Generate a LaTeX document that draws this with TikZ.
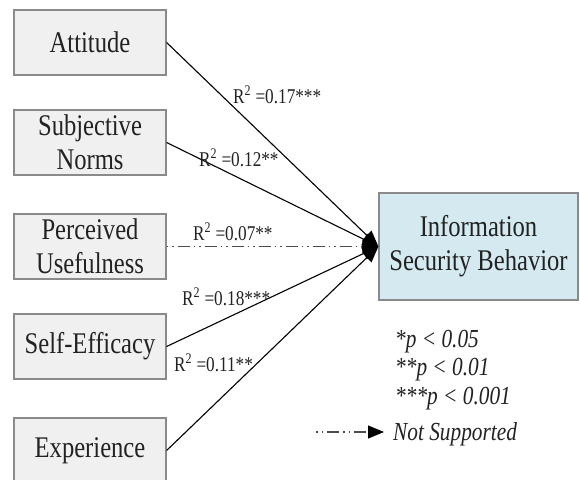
\documentclass[tikz,border=0pt]{standalone}
\usepackage{fontspec}
\setmainfont{Liberation Serif}[FakeStretch=0.82]
\usetikzlibrary{arrows.meta}
\definecolor{boxfill}{HTML}{F0F0F0}
\definecolor{boxline}{HTML}{8A8A8A}
\definecolor{isbfill}{HTML}{D4EAF0}
\definecolor{txt}{HTML}{222222}
\tikzset{
  x=1pt, y=1pt,
  varbox/.style={draw=boxline, line width=1.2pt, fill=boxfill, minimum width=152pt, minimum height=65pt,
    inner sep=0pt, align=center, text=txt, font=\fontsize{30}{34}\selectfont},
  isbbox/.style={varbox, fill=isbfill, minimum width=199pt, minimum height=107pt},
  path/.style={draw=black, line width=1.1pt, -{Triangle[length=16pt,width=13pt]}},
  nsline/.style={draw=black!70, line width=1.1pt, dash pattern=on 1.5pt off 4pt on 1.5pt off 4pt on 12pt off 4pt,
    -{Triangle[length=16pt,width=13pt,fill=black,color=black]}},
  rlab/.style={text=txt, font=\fontsize{21}{23}\selectfont, inner sep=0pt, anchor=base west},
  leg/.style={text=txt, font=\fontsize{26}{28}\selectfont\itshape, anchor=base west, inner sep=0pt}
}
\begin{document}
\begin{tikzpicture}
\useasboundingbox (0,0) rectangle (580,-479);
\clip (0,0) rectangle (580,-479);
\node[varbox] (att) at (90,-42.5) {Attitude};
\node[varbox] (sn)  at (90,-142.5) {Subjective\\Norms};
\node[varbox] (pu)  at (90,-246.5) {Perceived\\Usefulness};
\node[varbox] (se)  at (90,-346.5) {Self-Efficacy};
\node[varbox] (ex)  at (90,-450.5) {Experience};
\node[isbbox] (isb) at (478.5,-246.5) {Information\\Security Behavior};

\draw[path] (att.east) -- (isb.west);
\draw[path] (sn.east) -- (isb.west);
\draw[nsline] (pu.east) -- (isb.west);
\draw[path] (se.east) -- (isb.west);
\draw[path] (ex.east) -- (isb.west);

\node[rlab] (l1) at (233,-103) {R\textsuperscript{2} =0.17***};
\node[rlab] (l2) at (199,-166) {R\textsuperscript{2} =0.12**};
\node[rlab] (l3) at (193,-240) {R\textsuperscript{2} =0.07**};
\node[rlab] (l4) at (182,-305) {R\textsuperscript{2} =0.18***};
\node[rlab] (l5) at (174,-371) {R\textsuperscript{2} =0.11**};

\node[leg] (p1) at (395,-347) {*p < 0.05};
\node[leg] (p2) at (395,-375) {**p < 0.01};
\node[leg] (p3) at (395,-404) {***p < 0.001};
\coordinate (ls) at (316,-432);
\coordinate (le) at (384,-432);
\node[leg] (ns) at (393,-440) {Not Supported};
\draw[nsline] (ls) -- (le);
\end{tikzpicture}
\end{document}
